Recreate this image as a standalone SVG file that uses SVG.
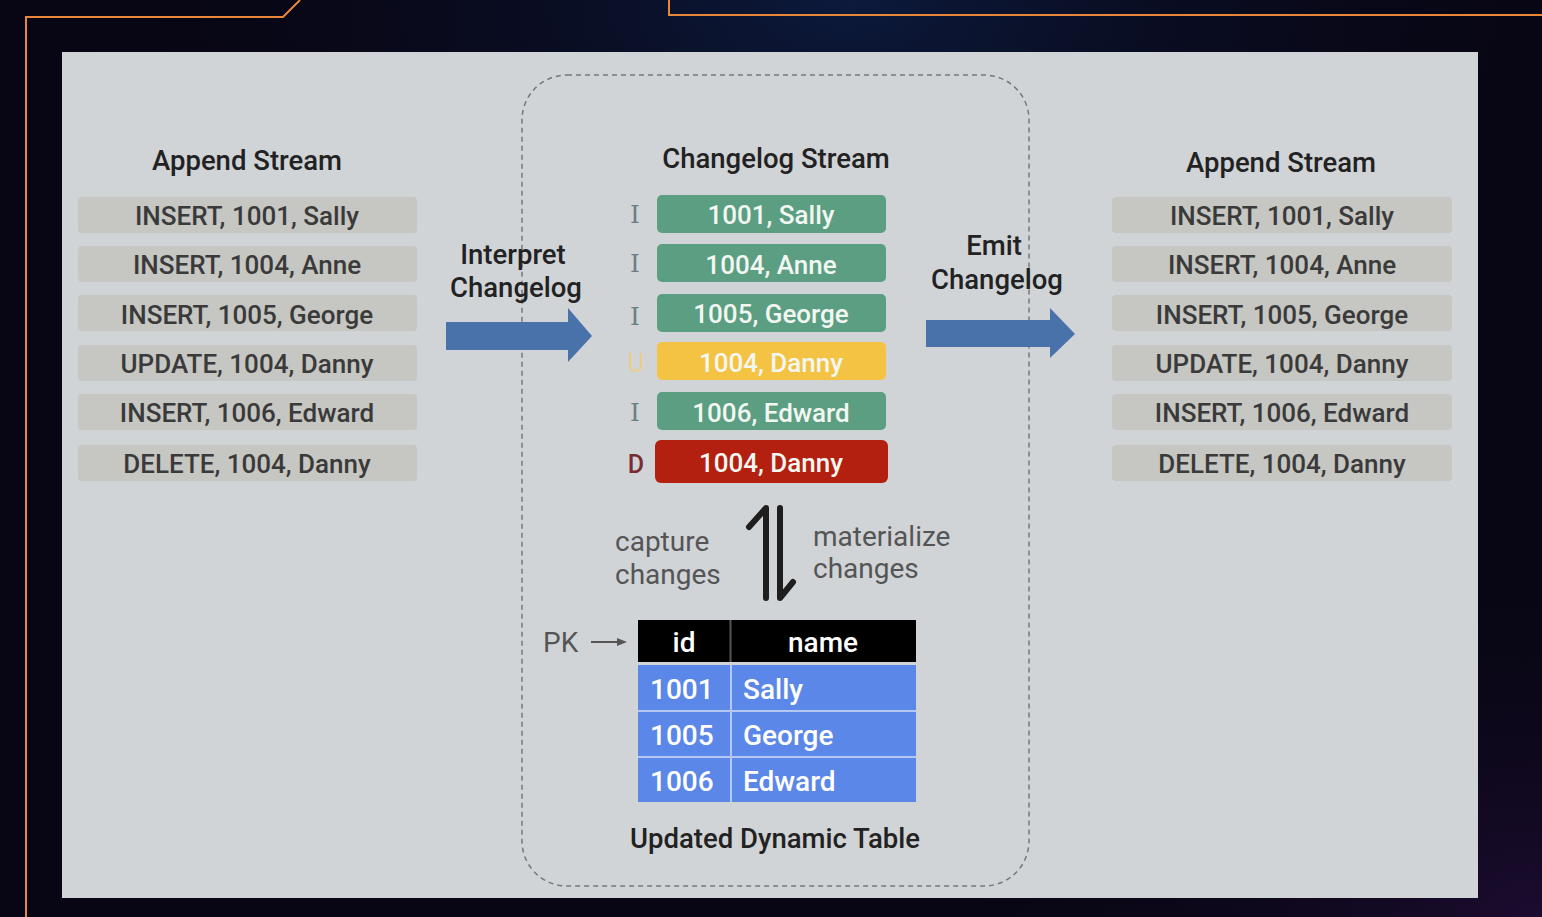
<svg xmlns="http://www.w3.org/2000/svg" width="1542" height="917" viewBox="0 0 1542 917">
<defs>
<radialGradient id="glow1" cx="0.55" cy="0" r="0.5">
<stop offset="0" stop-color="#0c1a3c"/>
<stop offset="1" stop-color="#080614" stop-opacity="0"/>
</radialGradient>
<radialGradient id="glow2" cx="1" cy="1" r="0.4">
<stop offset="0" stop-color="#1c0c30"/>
<stop offset="1" stop-color="#080614" stop-opacity="0"/>
</radialGradient>
<style>
.t{font-family:Roboto,"Liberation Sans",sans-serif;}
.title{font-size:27.5px;font-weight:500;fill:#222;text-anchor:middle;}
.abox{fill:#c6c6c2;}
.atxt{font-size:26px;font-weight:500;fill:#3a3a3a;text-anchor:middle;}
.ctxt{font-size:26px;font-weight:500;fill:#f2f7f2;text-anchor:middle;}
.lbl{font-size:27.5px;font-weight:500;fill:#222;text-anchor:middle;}
.gray{font-size:28px;fill:#555;}
.op{font-family:"DejaVu Serif","Liberation Serif",serif;font-size:25px;text-anchor:middle;}
.tw{font-size:28px;font-weight:500;fill:#fff;}
.blue{fill:#4a72aa;}
</style>
</defs>
<rect width="1542" height="917" fill="#080614"/>
<rect width="1542" height="917" fill="url(#glow1)"/>
<rect width="1542" height="917" fill="url(#glow2)"/>
<g id="frame" fill="none" stroke="#e8873a" stroke-width="2">
<path d="M26 917 V17 H283 L300 0"/>
<path d="M669 0 V15 H1542"/>
</g>
<rect id="panel" x="62" y="52" width="1416" height="846" fill="#d1d4d7"/>
<rect id="processor" x="522" y="75" width="507" height="811" rx="45" fill="none" stroke="#777" stroke-width="1.5" stroke-dasharray="5 4"/>

<g id="left-stream" class="t">
<text class="title" x="247" y="170">Append Stream</text>
<rect class="abox" x="78" y="197" width="339" height="36" rx="4"/>
<text class="atxt" x="247" y="225">INSERT, 1001, Sally</text>
<rect class="abox" x="78" y="246" width="339" height="36" rx="4"/>
<text class="atxt" x="247" y="274">INSERT, 1004, Anne</text>
<rect class="abox" x="78" y="295" width="339" height="36" rx="4"/>
<text class="atxt" x="247" y="324">INSERT, 1005, George</text>
<rect class="abox" x="78" y="345" width="339" height="36" rx="4"/>
<text class="atxt" x="247" y="373">UPDATE, 1004, Danny</text>
<rect class="abox" x="78" y="394" width="339" height="36" rx="4"/>
<text class="atxt" x="247" y="422">INSERT, 1006, Edward</text>
<rect class="abox" x="78" y="445" width="339" height="36" rx="4"/>
<text class="atxt" x="247" y="473">DELETE, 1004, Danny</text>
</g>

<g id="right-stream" class="t">
<text class="title" x="1281" y="172">Append Stream</text>
<rect class="abox" x="1112" y="197" width="340" height="36" rx="4"/>
<text class="atxt" x="1282" y="225">INSERT, 1001, Sally</text>
<rect class="abox" x="1112" y="246" width="340" height="36" rx="4"/>
<text class="atxt" x="1282" y="274">INSERT, 1004, Anne</text>
<rect class="abox" x="1112" y="295" width="340" height="36" rx="4"/>
<text class="atxt" x="1282" y="324">INSERT, 1005, George</text>
<rect class="abox" x="1112" y="345" width="340" height="36" rx="4"/>
<text class="atxt" x="1282" y="373">UPDATE, 1004, Danny</text>
<rect class="abox" x="1112" y="394" width="340" height="36" rx="4"/>
<text class="atxt" x="1282" y="422">INSERT, 1006, Edward</text>
<rect class="abox" x="1112" y="445" width="340" height="36" rx="4"/>
<text class="atxt" x="1282" y="473">DELETE, 1004, Danny</text>
</g>

<g id="changelog" class="t">
<text class="title" x="776" y="168">Changelog Stream</text>
<rect x="657" y="195" width="229" height="38" rx="5" fill="#5c9e82"/>
<text class="ctxt" x="771" y="224">1001, Sally</text>
<text class="op" x="635" y="223" fill="#6a7f86">I</text>
<rect x="657" y="244" width="229" height="38" rx="5" fill="#5c9e82"/>
<text class="ctxt" x="771" y="274">1004, Anne</text>
<text class="op" x="635" y="272" fill="#6a7f86">I</text>
<rect x="657" y="294" width="229" height="38" rx="5" fill="#5c9e82"/>
<text class="ctxt" x="771" y="323">1005, George</text>
<text class="op" x="635" y="325" fill="#6a7f86">I</text>
<rect x="657" y="342" width="229" height="38" rx="5" fill="#f5c344"/>
<text class="ctxt" x="771" y="372">1004, Danny</text>
<text class="t" x="636" y="372" font-size="25" fill="#e9cf8e" text-anchor="middle">U</text>
<rect x="657" y="392" width="229" height="38" rx="5" fill="#5c9e82"/>
<text class="ctxt" x="771" y="422">1006, Edward</text>
<text class="op" x="635" y="421" fill="#6a7f86">I</text>
<rect x="655" y="440" width="233" height="43" rx="6" fill="#b3200f"/>
<text class="ctxt" x="771" y="472">1004, Danny</text>
<text class="t" x="636" y="473" font-size="25" font-weight="500" fill="#7a2a32" text-anchor="middle">D</text>
</g>

<g id="connectors">
<g id="interpret">
<path class="blue" d="M446 322 H568 V308 L592 336 L568 362 V350 H446 Z"/>
<text class="t lbl" x="513" y="264">Interpret</text>
<text class="t lbl" x="516" y="297">Changelog</text>
</g>
<g id="emit">
<path class="blue" d="M926 320 H1050 V308 L1075 334 L1050 358 V347 H926 Z"/>
<text class="t lbl" x="994" y="255">Emit</text>
<text class="t lbl" x="997" y="289">Changelog</text>
</g>
<g id="capture-materialize" fill="none" stroke="#1e1e1e" stroke-width="6" stroke-linecap="round" stroke-linejoin="round">
<path d="M766 598 V508 L749 527"/>
<path d="M780 508 V598 L793 582"/>
</g>
<text class="t gray" x="615" y="551">capture</text>
<text class="t gray" x="615" y="584">changes</text>
<text class="t gray" x="813" y="546">materialize</text>
<text class="t gray" x="813" y="578">changes</text>
<g id="pk">
<text class="t gray" x="543" y="652" font-size="26">PK</text>
<path d="M591 642 H618" stroke="#555" stroke-width="2"/>
<path d="M627 642 L617 638 V646 Z" fill="#555"/>
</g>
</g>

<g id="table" class="t">
<rect x="638" y="620" width="278" height="42" fill="#000"/>
<line x1="730.5" y1="620" x2="730.5" y2="662" stroke="#555" stroke-width="2"/>
<text class="tw" x="684" y="652" text-anchor="middle">id</text>
<text class="tw" x="823" y="652" text-anchor="middle">name</text>
<rect x="638" y="665" width="278" height="137" fill="#5b87e8"/>
<g stroke="#b4c8f2" stroke-width="2">
<line x1="638" y1="711" x2="916" y2="711"/>
<line x1="638" y1="757" x2="916" y2="757"/>
<line x1="731" y1="665" x2="731" y2="802"/>
</g>
<text class="tw" x="650" y="699">1001</text>
<text class="tw" x="743" y="699">Sally</text>
<text class="tw" x="650" y="745">1005</text>
<text class="tw" x="743" y="745">George</text>
<text class="tw" x="650" y="791">1006</text>
<text class="tw" x="743" y="791">Edward</text>
<text class="t title" x="775" y="848">Updated Dynamic Table</text>
</g>
</svg>
